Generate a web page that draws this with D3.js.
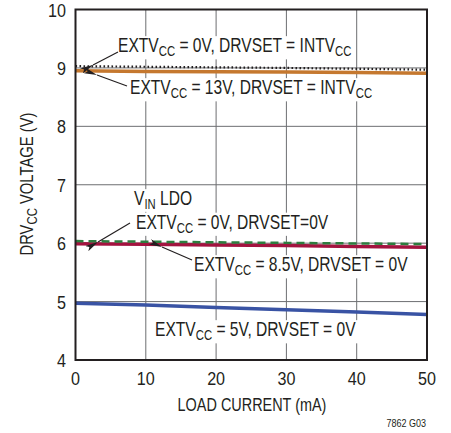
<!DOCTYPE html>
<html><head><meta charset="utf-8">
<script src="https://cdn.jsdelivr.net/npm/d3@7/dist/d3.min.js"></script>
<style>
body{margin:0;background:#fff;}
text{font-family:"Liberation Sans",Arial,sans-serif;fill:#231f20;}
</style></head>
<body><svg id="c" width="451" height="433"></svg>
<script>
const loadCurrent = [0, 10, 20, 30, 40, 50];
const extv0Intv   = [9.03, 9.02, 9.01, 9.00, 8.985, 8.97];
const extv13Intv  = [8.95, 8.94, 8.935, 8.93, 8.92, 8.91];
const vinLdo      = [6.035, 6.025, 6.015, 6.005, 5.995, 5.985];
const extv85      = [5.99, 5.98, 5.97, 5.96, 5.945, 5.93];
const extv5       = [4.97, 4.94, 4.90, 4.86, 4.82, 4.78];
const xTicks = [0, 10, 20, 30, 40, 50];
const yTicks = [4, 5, 6, 7, 8, 9, 10];

const svg = d3.select("#c");
const L = 75.5, R = 427, T = 9.5, B = 360;
const x = d3.scaleLinear().domain([0, 50]).range([L, R]);
const y = d3.scaleLinear().domain([4, 10]).range([B, T]);

// condensed text helper
function ctext(parent, px, py, parts, opts) {
  const o = Object.assign({size: 20, sub: 14.5, sx: 0.78, anchor: "start", rot: 0, knock: false, dy: 4}, opts || {});
  const g = parent.append("g")
    .attr("transform", `translate(${px},${py}) rotate(${o.rot}) scale(${o.sx},1)`);
  const t = g.append("text").attr("font-size", o.size).attr("text-anchor", o.anchor);
  let sub = false;
  parts.forEach(p => {
    const isSub = p.startsWith("_");
    const s = isSub ? p.slice(1) : p;
    const ts = t.append("tspan").text(s);
    if (isSub) { ts.attr("font-size", o.sub); if (!sub) { ts.attr("dy", o.dy); sub = true; } }
    else if (sub) { ts.attr("dy", -o.dy); sub = false; }
  });
  if (o.knock) {
    const bb = t.node().getBBox();
    g.insert("rect", "text").attr("x", bb.x - 3).attr("y", bb.y + 2)
      .attr("width", bb.width + 6).attr("height", bb.height - 2).attr("fill", "#fff");
  }
  return g;
}

// grid
const grid = svg.append("g");
grid.selectAll("line.v").data(xTicks.slice(1, -1)).join("line")
  .attr("x1", d => x(d)).attr("x2", d => x(d)).attr("y1", T).attr("y2", B)
  .attr("stroke", "#6d6e71").attr("stroke-width", 1);
grid.selectAll("line.h").data(yTicks.slice(1, -1)).join("line")
  .attr("y1", d => y(d)).attr("y2", d => y(d)).attr("x1", L).attr("x2", R)
  .attr("stroke", "#6d6e71").attr("stroke-width", 1);

// tick labels
const ax = svg.append("g");
xTicks.forEach(d => ctext(ax, x(d), 385, [String(d)], {size: 19, sx: 0.85, anchor: "middle"}));
yTicks.forEach(d => ctext(ax, 66, y(d) + 7, [String(d)], {size: 19, sx: 0.85, anchor: "end"}));

ctext(svg, 252, 411, ["LOAD CURRENT (mA)"], {size: 19, sx: 0.76, anchor: "middle"});
ctext(svg, 426, 427, ["7862 G03"], {size: 10, sx: 0.9, anchor: "end"});
ctext(svg, 33, 184, ["DRV", "_CC", " VOLTAGE (V)"], {size: 19, sub: 14.5, sx: 0.78, anchor: "middle", rot: -90});

// annotations with white knockout
const ann = svg.append("g");
ctext(ann, 118, 52, ["EXTV", "_CC", " = 0V, DRVSET = INTV", "_CC"], {knock: true});
ctext(ann, 130, 94, ["EXTV", "_CC", " = 13V, DRVSET = INTV", "_CC"], {knock: true});
ctext(ann, 134, 205, ["V", "_IN", " LDO"], {knock: true, dy: 3.5});
ctext(ann, 136, 228.5, ["EXTV", "_CC", " = 0V, DRVSET=0V"], {knock: true});
ctext(ann, 194, 271, ["EXTV", "_CC", " = 8.5V, DRVSET = 0V"], {knock: true});
ctext(ann, 155, 336, ["EXTV", "_CC", " = 5V, DRVSET = 0V"], {knock: true});

// series
const line = d3.line().x((d, i) => x(loadCurrent[i])).y(d => y(d));
const series = [
  {v: extv5, c: "#3953a4", w: 3.5},
  {v: extv85, c: "#a3133f", w: 3.5},
  {v: vinLdo, c: "#2d7d3f", w: 2.5, dash: "8,5"},
  {v: extv13Intv, c: "#c5782f", w: 3.5},
  {v: extv0Intv, c: "#231f20", w: 2.2, dash: "1.6,2.4"}
];
svg.append("g").selectAll("path").data(series).join("path")
  .attr("d", d => line(d.v)).attr("fill", "none")
  .attr("stroke", d => d.c).attr("stroke-width", d => d.w)
  .attr("stroke-dasharray", d => d.dash || null);

// arrows
const defs = svg.append("defs");
defs.append("marker").attr("id", "ah").attr("viewBox", "0 0 13 6").attr("refX", 0).attr("refY", 3)
  .attr("markerWidth", 13).attr("markerHeight", 6).attr("markerUnits", "userSpaceOnUse")
  .attr("orient", "auto-start-reverse")
  .append("path").attr("d", "M0,3 L13,0 L10,3 L13,6 Z").attr("fill", "#231f20");
const arrows = [
  [118, 52, 93, 65],
  [127, 86, 97, 75],
  [130, 223, 98, 242],
  [192, 260, 162, 247]
];
svg.append("g").selectAll("line").data(arrows).join("line")
  .attr("x1", d => d[2]).attr("y1", d => d[3]).attr("x2", d => d[0]).attr("y2", d => d[1])
  .attr("stroke", "#231f20").attr("stroke-width", 1.2)
  .attr("marker-start", "url(#ah)");

// frame
svg.append("rect").attr("x", L).attr("y", T).attr("width", R - L).attr("height", B - T)
  .attr("fill", "none").attr("stroke", "#231f20").attr("stroke-width", 2);
</script></body></html>
